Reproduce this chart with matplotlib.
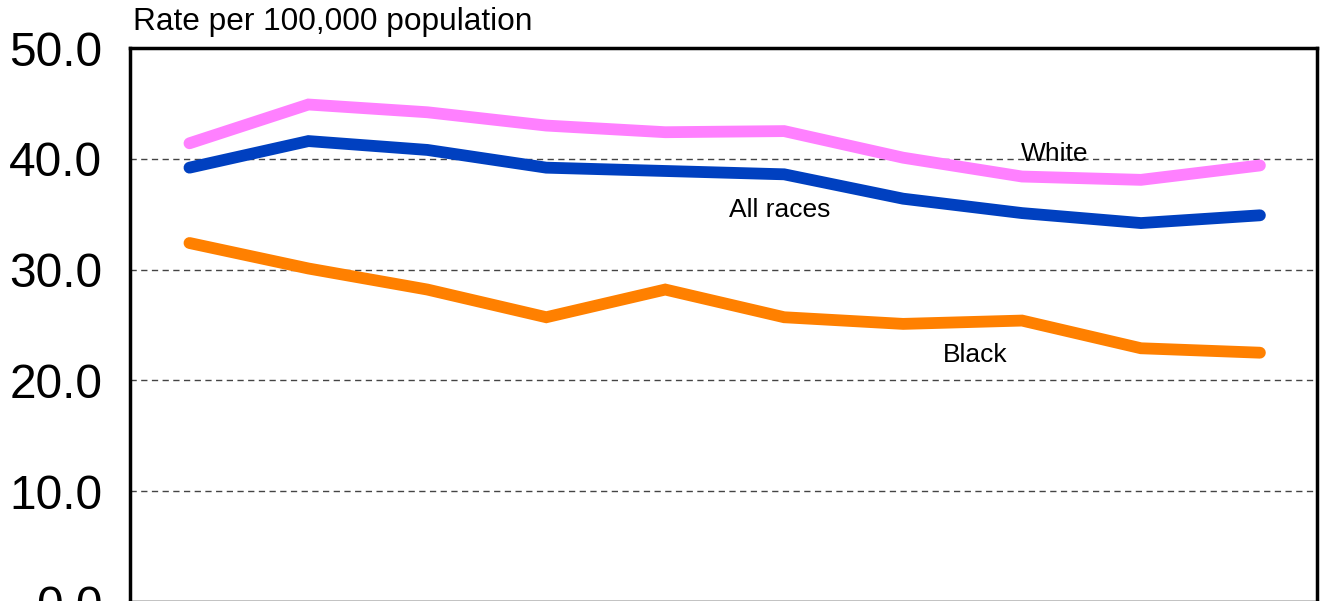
import matplotlib.pyplot as plt

# ten equally spaced time points (no x labels shown in the chart)
points = list(range(10))
white = [41.4, 44.9, 44.2, 43.0, 42.4, 42.5, 40.1, 38.4, 38.1, 39.4]
all_races = [39.2, 41.6, 40.8, 39.2, 38.9, 38.6, 36.4, 35.1, 34.2, 34.9]
black = [32.4, 30.1, 28.2, 25.7, 28.2, 25.7, 25.1, 25.4, 22.9, 22.5]

y_ticks = [0, 10, 20, 30, 40, 50]

plt.rcParams["font.family"] = ["Liberation Sans", "DejaVu Sans"]

fig = plt.figure(figsize=(13.23, 6.01), dpi=100)
ax = fig.add_axes([130 / 1323, -1 / 601, 1187 / 1323, 554 / 601])

# dashed reference lines
for yv in y_ticks[1:-1]:
    ax.axhline(yv, color="#444444", linewidth=1.0, linestyle=(0, (4.5, 3.2)), zorder=1)

line_kw = dict(linewidth=8.5, solid_capstyle="round", solid_joinstyle="miter", zorder=3)
ax.plot(points, white, color="#FF80FF", **line_kw)
ax.plot(points, all_races, color="#0040C0", **line_kw)
ax.plot(points, black, color="#FF8000", **line_kw)

ax.text(7.27, 40.4, "White", fontsize=19, ha="center", va="center", zorder=4)
ax.text(4.96, 35.4, "All races", fontsize=19, ha="center", va="center", zorder=4)
ax.text(6.61, 22.3, "Black", fontsize=19, ha="center", va="center", zorder=4)

ax.set_xlim(-0.5, 9.48)
ax.set_ylim(0, 50)
ax.set_xticks([])
ax.set_yticks(y_ticks)
ax.set_yticklabels([f"{v:.1f}" for v in y_ticks])
ax.tick_params(axis="y", length=0, pad=20, labelsize=34.5)
for sp in ax.spines.values():
    sp.set_linewidth(2.5)

fig.text(133 / 1323, 1 - 22 / 601, "Rate per 100,000 population",
         fontsize=22.8, ha="left", va="center")

fig.savefig("out.png", dpi=100)
